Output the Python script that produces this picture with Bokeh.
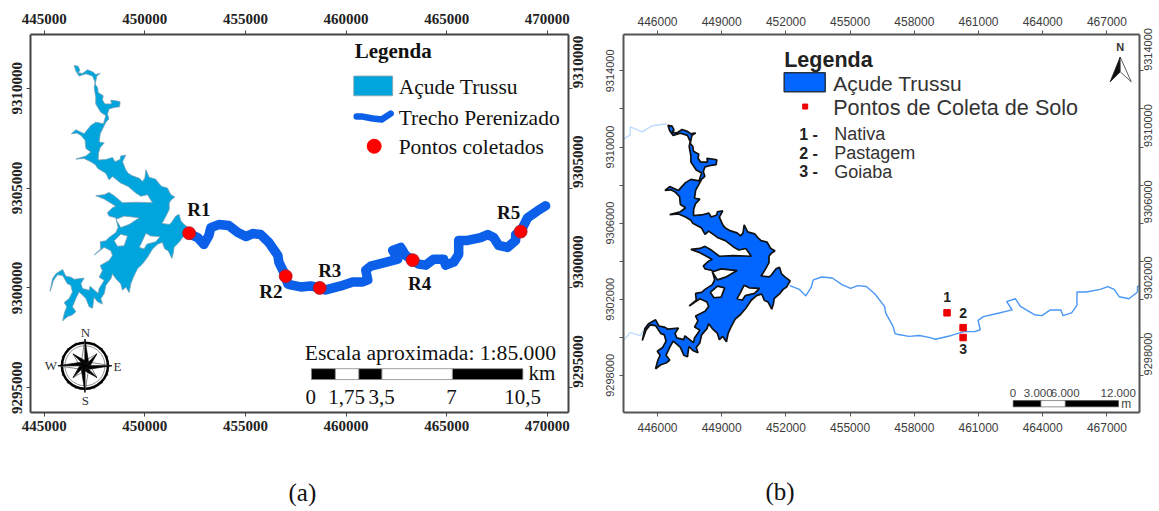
import math
from bokeh.plotting import figure
from bokeh.layouts import row
from bokeh.embed import file_html
from bokeh.resources import INLINE
from bokeh.models import LinearAxis, FixedTicker, Range1d, Title
from bokeh.core.properties import value

# Reservoir outline (UTM, km)
res_e_km = [446.49,446.68,446.77,446.68,446.90,447.15,447.40,447.56,447.78,447.61,447.53,447.65,447.68,447.93,447.89,448.01,
448.34,448.31,448.56,448.77,448.74,448.51,448.22,448.14,448.21,448.06,447.78,447.73,447.98,447.78,447.69,447.68,448.06,
448.39,448.51,448.77,448.80,449.05,448.89,449.05,449.17,449.38,449.72,449.88,450.00,450.05,450.21,450.54,450.71,450.84,
451.12,451.29,451.49,451.32,451.21,451.21,451.09,450.92,450.84,451.21,451.32,451.54,451.70,451.79,451.95,452.20,452.03,
451.87,451.70,451.45,451.42,451.34,451.16,450.99,450.87,450.63,450.38,450.13,449.88,449.63,449.43,449.30,449.22,449.05,
448.89,448.80,448.56,448.39,448.31,448.06,447.98,447.81,447.89,447.65,447.48,447.45,447.40,447.23,447.07,446.90,446.73,
446.57,446.40,446.57,446.40,446.15,445.91,446.02,446.12,445.99,446.24,446.40,446.32,446.15,445.91,445.66,445.46,445.29,
445.41,445.58,445.91,446.07,446.32,446.49,446.98,446.82,446.90,447.23,447.28,447.68,447.73,447.98,447.73,447.89,447.78,
448.22,448.39,448.31,447.98,447.48,447.81,447.78,448.06,448.22,448.56,448.67,448.56,448.22,448.14,448.39,448.56,447.98,
447.56,447.98,448.22,448.47,448.89,449.55,450.38,450.13,449.80,449.55,449.17,448.80,448.39,448.22,448.06,447.65,447.56,
447.31,446.98,446.57,447.07,447.31,447.07,447.03,446.82,446.62,446.35,446.57,446.98,447.31,447.56,447.94,448.06,447.81,
447.56,447.56,447.48,447.53,447.40,447.07,446.73,446.57]
res_n_km = [9311.14,9311.10,9310.90,9310.77,9310.74,9310.92,9310.82,9310.69,9310.74,9310.61,9310.20,9310.03,9309.78,9309.62,9309.42,9309.21,
9309.21,9309.40,9309.37,9309.32,9309.07,9309.04,9308.96,9308.71,9308.46,9308.30,9307.72,9307.31,9307.26,9307.03,9306.73,9306.40,9306.43,
9306.53,9306.32,9306.43,9306.60,9306.65,9306.32,9305.91,9305.74,9305.61,9305.49,9305.33,9305.49,9305.91,9305.54,9305.44,9305.21,9305.08,
9305.00,9304.67,9304.55,9304.42,9304.26,9303.93,9303.68,9303.35,9303.23,9303.18,9303.27,9303.60,9303.68,9303.35,9303.18,9302.97,9302.64,
9302.52,9302.28,9302.03,9301.78,9301.48,9301.86,9301.95,9302.28,9302.19,9301.95,9301.53,9301.20,9300.96,9300.54,9300.21,9299.77,9300.05,
9299.88,9300.21,9300.46,9300.71,9300.46,9300.13,9299.72,9299.47,9299.19,9299.31,9299.52,9299.39,9298.98,9299.06,9299.47,9299.64,9299.80,
9299.47,9299.06,9298.81,9298.65,9298.56,9298.35,9298.81,9299.06,9299.27,9299.47,9299.80,9300.13,9300.21,9300.62,9300.66,9300.38,9299.83,
9300.46,9300.71,9300.92,9300.59,9300.54,9300.43,9300.49,9300.21,9299.97,9299.88,9300.08,9299.72,9299.97,9300.38,9300.54,9300.87,9301.12,
9301.37,9301.62,9301.86,9302.03,9301.65,9301.95,9302.31,9302.36,9302.52,9302.77,9303.02,9303.51,9303.60,9303.76,9304.01,9304.09,9304.45,
9304.62,9304.67,9304.78,9304.62,9304.26,9304.29,9304.26,9304.67,9304.59,9304.75,9305.08,9305.25,9305.58,9305.41,9305.74,9305.99,9306.15,
9306.32,9306.48,9306.45,9306.60,9306.81,9306.98,9307.39,9307.64,9307.75,9307.72,9307.92,9307.72,9308.13,9308.30,9308.22,9308.63,9308.79,
9309.21,9309.54,9310.03,9310.28,9310.61,9310.72,9310.61,9310.86]

# Islands / closed inlets
hole_a_e = [449.72,449.88,450.05,450.29,450.76,450.54,450.10,449.96]
hole_a_n = [9302.03,9302.36,9302.74,9302.60,9302.57,9302.31,9302.19,9301.95]
hole_b_e = [448.56,448.97,449.72,449.22,448.80]
hole_b_n = [9303.43,9303.60,9303.51,9303.18,9303.02]
hole_c_e = [448.47,448.80,449.14,448.97,448.64]
hole_c_n = [9302.36,9302.69,9302.60,9302.11,9302.08]

# River stretch
riv_e_km = [452.18,452.63,452.93,453.18,453.28,453.67,454.17,454.62,455.02,455.36,455.76,456.16,456.61,456.66,457.00,457.10,457.25,457.75,
458.24,458.69,458.99,459.74,460.33,460.83,461.08,460.98,461.23,461.82,462.57,462.32,462.72,462.96,463.31,463.61,463.96,464.36,464.85,464.95,
465.35,465.60,465.60,466.04,466.69,467.04,467.34,467.58,468.03,468.43,468.43,468.68,469.02,469.52,469.92]
riv_n_km = [9302.72,9302.52,9302.18,9302.62,9303.02,9303.17,9303.12,9302.77,9302.57,9302.72,9302.67,9302.28,9301.63,9301.29,9300.59,9300.20,9300.15,9300.05,
9300.10,9300.00,9299.90,9300.10,9300.30,9300.30,9300.40,9300.89,9301.09,9301.24,9301.44,9301.88,9302.03,9301.63,9301.39,9301.19,9301.14,9301.44,9301.44,9301.14,
9301.29,9301.68,9302.38,9302.38,9302.52,9302.67,9302.52,9302.13,9302.03,9302.38,9302.67,9302.82,9303.51,9303.86,9304.11]

# Upstream feeders, panel (b)
up1_e = [444.40,444.73,444.73,445.29,445.75,446.45]
up1_n = [9310.39,9310.65,9311.06,9310.80,9311.12,9311.22]
up2_e = [444.40,444.73,445.19,445.33]
up2_n = [9299.83,9300.25,9300.09,9300.35]

# Sampling points
pts_a_e = [452.20,457.00,458.69,463.31,468.68]
pts_a_n = [9302.74,9300.59,9300.00,9301.39,9302.82]
pts_a_names = ["R1","R2","R3","R4","R5"]
pts_a_lab_e = [452.68,456.26,459.19,463.66,468.08]
pts_a_lab_n = [9303.91,9299.80,9300.89,9300.20,9303.80]
pts_b_e = [459.53,460.28,460.28]
pts_b_n = [9301.29,9300.51,9299.99]
pts_b_names = ["1","2","3"]
pts_b_lab_n = [9302.12,9301.28,9299.40]

# Ticks
a_xticks = [445000,450000,455000,460000,465000,470000]
a_yticks = [9295000,9300000,9305000,9310000]
b_xticks = [446000,449000,452000,455000,458000,461000,464000,467000]
b_yticks = [9298000,9300000,9302000,9304000,9306000,9308000,9310000,9312000,9314000]
b_ylabeled = [9298000,9302000,9306000,9310000,9314000]

# Scale bars
a_scale_labels = ["0","1,75","3,5","7","10,5"]
b_scale_labels = ["0","3.000","6.000","12.000"]

SERIF = "Liberation Serif"
SANS = "Liberation Sans"
A_BLUE, A_RIVER = "#00a5de", "#0b5fe8"
B_BLUE, B_RIVER = "#0066ff", "#4a97f5"

# frames in page pixels
A = dict(l=29.5, r=568.0, t=30.0, b=412.3, x0=444315, x1=471058, y0=9293762, y1=9312688, fig_l=0, w=596)
B = dict(l=623.3, r=1139.3, t=34.3, b=415.7, x0=444411, x1=468523, y0=9296052, y1=9315911, fig_l=596, w=563)
H = 511

def conv(F):
    fx = lambda px: F["x0"] + (px - F["l"]) * (F["x1"] - F["x0"]) / (F["r"] - F["l"])
    fy = lambda py: F["y1"] - (py - F["t"]) * (F["y1"] - F["y0"]) / (F["b"] - F["t"])
    return fx, fy

def base(F):
    p = figure(width=F["w"], height=H, x_range=Range1d(F["x0"], F["x1"]), y_range=Range1d(F["y0"], F["y1"]),
               toolbar_location=None, output_backend="svg", x_axis_location=None, y_axis_location=None)
    p.min_border_left = round(F["l"] - F["fig_l"])
    p.min_border_right = round(F["fig_l"] + F["w"] - F["r"])
    p.min_border_top = round(F["t"])
    p.min_border_bottom = round(H - F["b"])
    p.grid.visible = False
    p.outline_line_color = None
    p.background_fill_color = "white"
    return p

def add_axes(p, xt, yt, ylab, font, bold, xsize, ysize, col, lw, standoffs):
    for side in ("above", "below", "left", "right"):
        horiz = side in ("above", "below")
        ticks = xt if horiz else yt
        ax = LinearAxis(ticker=FixedTicker(ticks=ticks))
        ax.major_label_overrides = {t: (str(t) if (horiz or t in ylab) else "") for t in ticks}
        ax.major_label_text_font = font
        ax.major_label_text_font_style = "bold" if bold else "normal"
        ax.major_label_text_font_size = xsize if horiz else ysize
        ax.major_label_text_color = "#222222" if bold else "#3c3c3c"
        ax.major_label_standoff = standoffs[side]
        ax.major_tick_in = 0
        ax.major_tick_out = 4
        ax.minor_tick_in = 0
        ax.minor_tick_out = 0
        ax.major_tick_line_color = col
        ax.axis_line_color = col
        ax.axis_line_width = lw
        if side == "left":
            ax.major_label_orientation = "vertical"
        elif side == "right":
            ax.major_label_orientation = math.pi / 2
        p.add_layout(ax, side)

def txt(p, F, px, py, s, font, size, bold=False, color="#111111", align="left"):
    fx, fy = conv(F)
    p.text(x=[fx(px)], y=[fy(py)], text=[s], text_font=value(font), text_font_size=value(size),
           text_font_style="bold" if bold else "normal", text_color=color, text_align=align, text_baseline="middle")

def km(v):
    return [round(a * 1000, 1) for a in v]

def rects(p, F, x0, x1, y0, y1, **kw):
    fx, fy = conv(F)
    p.quad(left=[fx(a) for a in x0], right=[fx(a) for a in x1], top=[fy(y0)] * len(x0), bottom=[fy(y1)] * len(x0), **kw)

def panel_tag(p, s, offset, gap):
    p.add_layout(Title(text=" ", text_font_size="1px", standoff=gap), "below")
    p.add_layout(Title(text=s, text_font=SERIF, text_font_size="25px", text_font_style="normal", text_color="#111111",
                       align="left", offset=offset, standoff=0), "below")

# ---------- panel (a)
pa = base(A)
add_axes(pa, a_xticks, a_yticks, a_yticks, SERIF, True, "15px", "15px", "#444444", 2,
         dict(above=7, below=4, left=4, right=6))
fx, fy = conv(A)
pa.patch(km(res_e_km), km(res_n_km), fill_color=A_BLUE, line_color="#6f9fb5", line_width=0.8)
pa.patches([km(hole_a_e), km(hole_b_e), km(hole_c_e)], [km(hole_a_n), km(hole_b_n), km(hole_c_n)],
           fill_color="white", line_color="#6f9fb5", line_width=0.8)
pa.line(km(riv_e_km), km(riv_n_km), line_color=A_RIVER, line_width=9.5, line_join="round", line_cap="round")
pa.scatter(km(pts_a_e), km(pts_a_n), size=13, marker="circle", fill_color="#ff0000", line_color="#a02030", line_width=0.8)
pa.text(km(pts_a_lab_e), km(pts_a_lab_n), text=pts_a_names, text_font=value(SERIF), text_font_size=value("19px"),
        text_font_style="bold", text_color="#111111", text_align="center", text_baseline="middle")
# legend
txt(pa, A, 354, 47, "Legenda", SERIF, "21px", True)
rects(pa, A, [353], [392], 72, 92, fill_color=A_BLUE, line_color="#9aa5a8", line_width=0.8)
pa.line([fx(v) for v in (356, 362, 372, 381, 390)], [fy(v) for v in (113, 113, 115, 116, 110)],
        line_color=A_RIVER, line_width=6.5, line_cap="round", line_join="round")
pa.scatter([fx(373.5)], [fy(143)], size=14, marker="circle", fill_color="#ff0000", line_color="#ff0000")
txt(pa, A, 398, 83, "Açude Trussu", SERIF, "21.5px")
txt(pa, A, 398, 114, "Trecho Perenizado", SERIF, "21.5px")
txt(pa, A, 398, 144, "Pontos coletados", SERIF, "21.5px")
# scale
txt(pa, A, 304, 352, "Escala aproximada: 1:85.000", SERIF, "21.6px")
rects(pa, A, [310.7, 358, 451.7], [334.7, 381.3, 522.3], 368, 379, fill_color="black", line_color="#888888", line_width=0.8)
rects(pa, A, [334.7, 381.3], [358, 451.7], 368, 379, fill_color="white", line_color="#888888", line_width=0.8)
txt(pa, A, 528, 372, "km", SERIF, "21px")
for lx, s in zip((310, 346, 381, 451, 522), a_scale_labels):
    txt(pa, A, lx, 397, s, SERIF, "21px", align="center")
# compass rose
cx, cy = 84, 365
ring = [(cx + 24 * math.cos(k * math.pi / 8), cy + 24 * math.sin(k * math.pi / 8)) for k in range(16)]
pa.scatter([fx(a) for a, _ in ring], [fy(b) for _, b in ring], size=2.5, marker="circle", fill_color="#999999", line_color=None)
pa.scatter([fx(cx)], [fy(cy)], size=46, marker="circle", fill_color="white", line_color="black", line_width=2.5)
pa.scatter([fx(cx)], [fy(cy)], size=40, marker="circle", fill_color=None, line_color="#777777", line_width=0.8)
blk, wht = ([], []), ([], [])
for k in range(8):
    th = k * math.pi / 4
    R = 27 if k % 2 == 0 else 17
    w = 5.5
    tip = (cx + R * math.cos(th), cy + R * math.sin(th))
    s1 = (cx + w * math.cos(th + 0.7), cy + w * math.sin(th + 0.7))
    s2 = (cx + w * math.cos(th - 0.7), cy + w * math.sin(th - 0.7))
    for tgt, s in ((blk, s1), (wht, s2)):
        tgt[0].append([fx(cx), fx(tip[0]), fx(s[0])])
        tgt[1].append([fy(cy), fy(tip[1]), fy(s[1])])
pa.patches(wht[0], wht[1], fill_color="white", line_color="#333333", line_width=0.6)
pa.patches(blk[0], blk[1], fill_color="black", line_color="black", line_width=0.6)
for lx, ly, s in ((84.5, 331, "N"), (50, 365, "W"), (116.5, 366, "E"), (84.5, 400, "S")):
    txt(pa, A, lx, ly, s, SERIF, "13px", color="#333333", align="center")
panel_tag(pa, "(a)", 258, 40)

# ---------- panel (b)
pb = base(B)
add_axes(pb, b_xticks, b_yticks, b_ylabeled, SANS, False, "12px", "11px", "#555555", 2,
         dict(above=5, below=6, left=5, right=5))
fx, fy = conv(B)
pb.line(km(up1_e), km(up1_n), line_color="#bcdcff", line_width=1.4)
pb.line(km(up2_e), km(up2_n), line_color="#bcdcff", line_width=1.4)
pb.line(km(riv_e_km), km(riv_n_km), line_color=B_RIVER, line_width=1.4, line_join="round")
pb.patch(km(res_e_km), km(res_n_km), fill_color=B_BLUE, line_color="#111111", line_width=1.7)
pb.patches([km(hole_a_e), km(hole_b_e), km(hole_c_e)], [km(hole_a_n), km(hole_b_n), km(hole_c_n)],
           fill_color="white", line_color="#111111", line_width=1.7)
pb.scatter(km(pts_b_e), km(pts_b_n), size=6.5, marker="square", fill_color="#ee0000", line_color="#ee0000")
pb.text(km(pts_b_e), km(pts_b_lab_n), text=pts_b_names, text_font=value(SANS), text_font_size=value("14px"),
        text_font_style="bold", text_color="#222222", text_align="center", text_baseline="middle")
# legend
txt(pb, B, 784, 60, "Legenda", SANS, "21.5px", True, "#222222")
rects(pb, B, [784], [825], 73, 92, fill_color=B_BLUE, line_color="#223344", line_width=1.5)
pb.scatter([fx(805)], [fy(107)], size=5, marker="square", fill_color="#ee0000", line_color="#ee0000")
txt(pb, B, 833, 84, "Açude Trussu", SANS, "21px", color="#333333")
txt(pb, B, 833, 108, "Pontos de Coleta de Solo", SANS, "21.6px", color="#333333")
for ly, n, s in ((135, "1 -", "Nativa"), (154, "2 -", "Pastagem"), (173, "3 -", "Goiaba")):
    txt(pb, B, 799, ly, n, SANS, "16px", True, "#222222")
    txt(pb, B, 834, ly, s, SANS, "18px", color="#333333")
# north arrow
pb.patch([fx(v) for v in (1120, 1110, 1120)], [fy(v) for v in (57, 82, 72)], fill_color="#111111", line_color="#111111", line_width=0.8)
pb.patch([fx(v) for v in (1120, 1131, 1120)], [fy(v) for v in (57, 82, 72)], fill_color="white", line_color="#333333", line_width=0.8)
txt(pb, B, 1120, 47, "N", SANS, "11px", True, "#333333", "center")
# scale
rects(pb, B, [1013, 1065], [1040.7, 1118.3], 403.7, 410, fill_color="black", line_color="#444444", line_width=0.6)
rects(pb, B, [1040.7], [1065], 403.7, 410, fill_color="white", line_color="#444444", line_width=0.6)
for lx, s in zip((1012.7, 1038, 1065, 1118), b_scale_labels):
    txt(pb, B, lx, 396, s, SANS, "11.5px", color="#444444", align="center")
txt(pb, B, 1121, 407, "m", SANS, "12px", color="#444444")
panel_tag(pb, "(b)", 142, 38)

layout = row(pa, pb, spacing=0)
open("out.html", "w").write(file_html(layout, INLINE))
